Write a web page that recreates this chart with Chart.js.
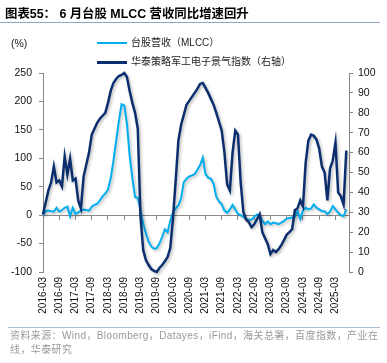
<!DOCTYPE html>
<html><head><meta charset="utf-8">
<script src="https://cdn.jsdelivr.net/npm/chart.js@4"></script>
<style>
html,body{margin:0;padding:0;background:#fff;}
#wrap{position:relative;width:387px;height:363px;overflow:hidden;font-family:"Liberation Sans","Noto Sans CJK SC",sans-serif;}
canvas{position:absolute;left:0;top:0;}
.t{position:absolute;white-space:nowrap;}
</style></head><body>
<div id="wrap">
<canvas id="c" width="387" height="363"></canvas>
<div class="t" style="left:5px;top:7px;line-height:14px;font-weight:bold;font-size:12.4px;color:#000">图表55： 6 月台股 MLCC 营收同比增速回升</div>
<div style="position:absolute;left:0;top:22px;width:380px;height:1px;background:#8FA7C4"></div>
<div class="t" style="left:11px;top:37px;line-height:12px;font-size:10.5px;color:#222">(%)</div>
<div style="position:absolute;left:97px;top:42px;width:30px;height:2px;background:#00AEEF"></div>
<div class="t" style="left:131px;top:37px;line-height:12px;font-size:10px;color:#222">台股营收（MLCC）</div>
<div style="position:absolute;left:97px;top:61px;width:30px;height:2.5px;background:#0B2F6E"></div>
<div class="t" style="left:131px;top:56px;line-height:12px;font-size:10px;color:#222">华泰策略军工电子景气指数（右轴）</div>
<div style="position:absolute;left:8px;top:327px;width:372px;height:1px;background:#A9BCD3"></div>
<div class="t" style="left:10px;top:329px;line-height:14px;font-size:10px;letter-spacing:0.4px;color:#999">资料来源：Wind，Bloomberg，Datayes，iFind，海关总署，百度指数，产业在<br>线，华泰研究</div>
</div>
<script>
// month labels 2016-03 .. 2025-08
const monthLabels = [];
for (let y = 2016; y <= 2025; y++) {
  for (let m = 1; m <= 12; m++) {
    if (y === 2016 && m < 3) continue;
    if (y === 2025 && m > 8) continue;
    monthLabels.push(y + '-' + String(m).padStart(2, '0'));
  }
}
const mlccRevenue = [
  0,7,8,7,6,13,6,9,13,15,
  -2,13,2,5,8,10,9,8,15,18,
  20,26,33,38,45,65,95,130,165,195,
  193,160,105,65,32,30,8,-15,-32,-47,
  -55,-59,-58,-50,-38,-25,-30,-10,5,12,
  17,30,58,64,68,70,72,80,88,101,
  72,66,64,55,32,24,19,8,4,10,
  18,10,2,0,-3,-7,-8,-8,-3,1,
  0,-10,-16,-11,-16,-13,-14,-16,-13,-10,
  -6,-5,-4,-3,7,-7,8,13,10,12,
  19,13,10,7,7,2,6,16,10,4,
  0,-2,10
];
const defenseIndex = [
  29,35,41,45,53,45,46,43,58,49,
  57,46,47,36,32,48,54,60,69,72,
  75,77,78.5,80,85,91,95,97,98.5,99,
  100,98,91,85,80,72,28,11,6,3.5,
  1.5,0.5,0,2,3.5,5.4,7.5,12,27,46,
  66,74,79,84,86,88,90,92,94.5,95,
  92.5,90,87,84,80,75.5,71,60,44,41,
  60,71,69,45,30,26.5,25,22.5,24,26.5,
  29,20,17,14,9,11,10,11.5,13.5,16,
  18.8,20,21.5,31,32,36,33,55,66,69,
  68.5,66.5,62,53,50,36,52,56,65,40,
  38,34,61
];
const leftTicks = {min:-100, max:250, step:50};
const rightTicks = {min:0, max:100, step:10};

const FF = '"Liberation Sans", Arial, sans-serif';
const toPts = arr => arr.map((v, i) => ({x: i, y: v}));

const shadow = {
  id: 'shadow',
  beforeDatasetsDraw(c) { const x = c.ctx; x.save(); x.shadowColor = 'rgba(0,0,0,0.28)'; x.shadowBlur = 3; x.shadowOffsetX = 1.5; x.shadowOffsetY = 1.5; },
  afterDatasetsDraw(c) { c.ctx.restore(); }
};

new Chart(document.getElementById('c'), {
  type: 'line',
  data: {
    datasets: [
      {label: '台股营收（MLCC）', data: toPts(mlccRevenue), borderColor: '#00AEEF', borderWidth: 2, pointRadius: 0, tension: 0, yAxisID: 'y', xAxisID: 'x', order: 2, clip: false},
      {label: '华泰策略军工电子景气指数（右轴）', data: toPts(defenseIndex), borderColor: '#0B2F6E', borderWidth: 2.5, pointRadius: 0, tension: 0, yAxisID: 'y1', xAxisID: 'x', order: 1, clip: false}
    ]
  },
  options: {
    responsive: false,
    animation: false,
    events: [],
    layout: {padding: {top: 73, bottom: 43, left: 0, right: 0}},
    plugins: {legend: {display: false}, tooltip: {enabled: false}},
    scales: {
      x: {
        type: 'linear', position: 'bottom', min: 0, max: monthLabels.length - 1,
        afterFit: s => { s.height = 48; },
        grid: {display: false, drawTicks: false},
        border: {display: false},
        ticks: {stepSize: 6, autoSkip: false, includeBounds: false, maxRotation: 90, minRotation: 90, padding: 5,
          font: {family: FF, size: 10}, color: '#111', callback: v => monthLabels[v]}
      },
      xz: {
        type: 'linear', axis: 'x', position: {y: 0}, min: 0, max: monthLabels.length - 1,
        grid: {display: true, drawOnChartArea: false, drawTicks: true, tickLength: 4, color: '#888'},
        border: {display: true, color: '#888'},
        ticks: {display: false, stepSize: 6, includeBounds: false}
      },
      y: {
        position: 'left', min: leftTicks.min, max: leftTicks.max,
        afterFit: s => { s.width = 43; },
        grid: {drawOnChartArea: false, tickLength: 4, color: '#888'},
        border: {color: '#888'},
        ticks: {stepSize: leftTicks.step, padding: 7, font: {family: FF, size: 10.5}, color: '#111'}
      },
      y1: {
        position: 'right', min: rightTicks.min, max: rightTicks.max,
        afterFit: s => { s.width = 38; },
        grid: {drawOnChartArea: false, tickLength: 4, color: '#888'},
        border: {color: '#888'},
        ticks: {stepSize: rightTicks.step, padding: 5, font: {family: FF, size: 10.5}, color: '#111'}
      }
    }
  },
  plugins: [shadow]
});
</script>
</body></html>
